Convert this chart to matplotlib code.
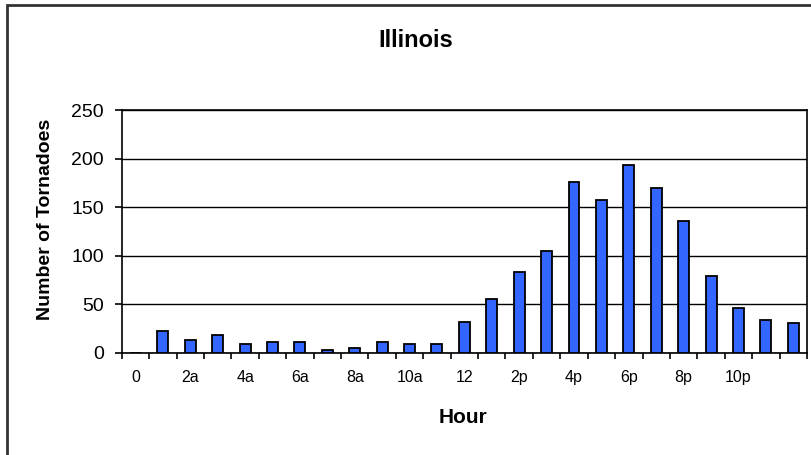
import matplotlib.pyplot as plt
import numpy as np
from matplotlib.patches import Rectangle

plt.rcParams['font.family'] = ['Liberation Sans', 'DejaVu Sans']

# Heures 0..24 et nombre de tornades
hours = list(range(25))
tornadoes = [0, 23, 13, 19, 9, 11, 11, 3, 5, 11, 9, 9,
             32, 56, 83, 105, 176, 157, 194, 170, 136, 79, 46, 34, 31]
hour_labels = ["0", "2a", "4a", "6a", "8a", "10a", "12",
               "2p", "4p", "6p", "8p", "10p", ""]
y_ticks = [0, 50, 100, 150, 200, 250]

fig = plt.figure(figsize=(8.12, 4.55), dpi=100)
ax = fig.add_axes([0.150, 0.2242, 0.8438, 0.5338])

ax.bar(hours, tornadoes, width=0.4, color='#3366ff', edgecolor='black',
       linewidth=1.3, zorder=3)

ax.set_xlim(-0.5, 24.5)
ax.set_ylim(0, 250)
ax.set_yticks(y_ticks)
ax.yaxis.grid(True, color='black', linewidth=1.0, zorder=1)

# étiquettes toutes les 2 heures, traits de graduation entre catégories
ax.set_xticks(hours[::2])
ax.set_xticklabels(hour_labels)
ax.set_xticks(np.arange(-0.5, 25, 1), minor=True)
ax.tick_params(axis='x', which='major', length=0, pad=12, labelsize=11.5)
ax.tick_params(axis='x', which='minor', length=4.5, width=1.2, direction='out')
ax.tick_params(axis='y', length=5, width=1.2, direction='out', pad=8, labelsize=14)

for sp in ax.spines.values():
    sp.set_linewidth(1.2)
    sp.set_color('black')

ax.set_xlabel("Hour", fontsize=15, fontweight='bold', va='center')
ax.xaxis.set_label_coords(0.498, -0.267)
ax.set_ylabel("Number of Tornadoes", fontsize=14, fontweight='bold', va='center')
ax.yaxis.set_label_coords(-0.112, 0.55)
fig.text(0.512, 0.91, "Illinois", ha='center', va='center',
         fontsize=17, fontweight='bold')

# cadre extérieur
fig.patches.append(Rectangle((0.009, -0.1), 1.1, 1.09, transform=fig.transFigure,
                             fill=False, edgecolor='#333333', linewidth=2))

fig.savefig("out.png", dpi=100)
